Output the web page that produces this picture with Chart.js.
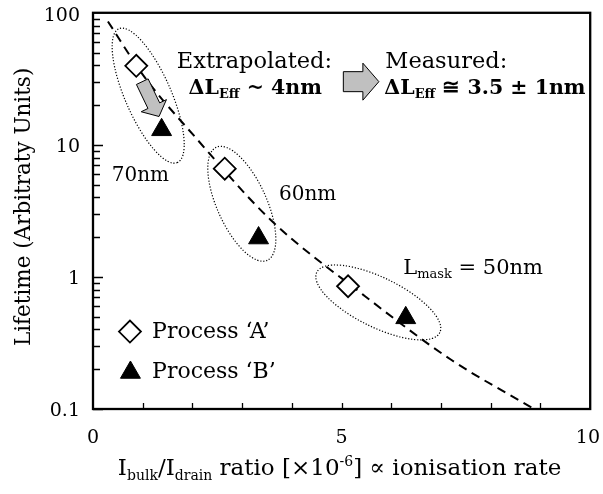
<!DOCTYPE html>
<html><head><meta charset="utf-8">
<script src="https://cdn.jsdelivr.net/npm/chart.js@4/dist/chart.umd.min.js"></script>
<style>html,body{margin:0;padding:0;background:#fff;}#wrap{width:603px;height:494px;}</style>
</head><body><div id="wrap"><canvas id="c" width="603" height="494"></canvas></div>
<script>
// ---- data ----
const processA_x = [0.87, 2.65, 5.13];
const processA_y = [39.7, 6.6, 0.85];
const processB_x = [1.38, 3.33, 6.29];
const processB_y = [13.0, 1.97, 0.49];
const fit_x = [0.30, 1.03, 2.06, 3.57, 5.43, 7.21, 8.85];
const fit_y = [86, 32.9, 11.4, 2.71, 0.735, 0.235, 0.101];
const yTickLabels = [0.1, 1, 10, 100];
const xTickLabels = [0, 5, 10];
const seriesNames = ["Process \u2018A\u2019", "Process \u2018B\u2019"];

const FONT = '"DejaVu Serif", "Liberation Serif", serif';

// annotation anchors in data units (x, y)
const textNotes = [
  {parts:[['Extrapolated:','n']], x:1.685, y:38.2, size:22.5, bold:false},
  {parts:[['\u0394L','n'],['Eff','sub'],[' ~ 4nm','n']], x:1.923, y:24.4, size:20.5, bold:true},
  {parts:[['Measured:','n']], x:5.88, y:38.2, size:22.5, bold:false},
  {parts:[['\u0394L','n'],['Eff','sub'],[' \u2245 3.5 \u00b1 1nm','n']], x:5.86, y:24.4, size:20.5, bold:true},
  {parts:[['70nm','n']], x:0.377, y:5.30, size:20, bold:false},
  {parts:[['60nm','n']], x:3.74, y:3.85, size:20, bold:false},
  {parts:[['L','n'],['mask','sub'],[' = 50nm','n']], x:6.24, y:1.06, size:21, bold:false}
];
const ellipseNotes = [
  {x:1.11, y:23.6, a:73, b:23, rot:66.4},
  {x:2.993, y:3.58, a:62, b:24.8, rot:65.8},
  {x:5.738, y:0.641, a:68.5, b:24.8, rot:26.1}
];
const arrowNotes = [
  {x1:0.991, y1:30.1, x2:1.328, y2:16.4, sw:13, hw:28, hl:12},
  {x1:5.035, y1:30.1, x2:5.75, y2:30.1, sw:20, hw:37, hl:16}
];
const legendAnchors = [
  {mx:0.743, my:0.386, tx:1.189, ty:0.344},
  {mx:0.753, my:0.189, tx:1.189, ty:0.173}
];

function richWidth(ctx, parts, size, bold){
  let w=0;
  for(const [t,k] of parts){
    const s = k==='n'?size:Math.round(size*0.62);
    ctx.font=(bold?'bold ':'')+s+'px '+FONT;
    w+=ctx.measureText(t).width;
  }
  return w;
}
function drawRich(ctx, parts, x, y, size, bold){
  let cx=x;
  ctx.textAlign='left'; ctx.textBaseline='alphabetic';
  for(const [t,k] of parts){
    const s = k==='n'?size:Math.round(size*0.62);
    ctx.font=(bold?'bold ':'')+s+'px '+FONT;
    const dy = k==='sub'? size*0.22 : (k==='sup'? -size*0.4 : 0);
    ctx.fillText(t, cx, y+dy);
    cx+=ctx.measureText(t).width;
  }
}
function blockArrow(ctx,x1,y1,x2,y2,sw,hw,hl){
  const dx=x2-x1, dy=y2-y1, L=Math.hypot(dx,dy), ux=dx/L, uy=dy/L, px=-uy, py=ux;
  const bx=x2-ux*hl, by=y2-uy*hl;
  const pts=[[x1+px*sw/2,y1+py*sw/2],[bx+px*sw/2,by+py*sw/2],[bx+px*hw/2,by+py*hw/2],[x2,y2],
             [bx-px*hw/2,by-py*hw/2],[bx-px*sw/2,by-py*sw/2],[x1-px*sw/2,y1-py*sw/2]];
  ctx.beginPath(); ctx.moveTo(pts[0][0],pts[0][1]);
  for(let i=1;i<pts.length;i++) ctx.lineTo(pts[i][0],pts[i][1]);
  ctx.closePath();
  ctx.fillStyle='#c0c0c0'; ctx.fill();
  ctx.lineWidth=1; ctx.strokeStyle='#000'; ctx.setLineDash([]); ctx.stroke();
}

const decor = {
  id:'decor',
  beforeDatasetsDraw(chart){
    const ctx=chart.ctx, xs=chart.scales.x, ys=chart.scales.y;
    ctx.save();
    ctx.strokeStyle='#000'; ctx.lineWidth=1.2; ctx.setLineDash([1.2,1.8]);
    for(const e of ellipseNotes){
      ctx.beginPath();
      ctx.ellipse(xs.getPixelForValue(e.x), ys.getPixelForValue(e.y), e.a, e.b, e.rot*Math.PI/180, 0, Math.PI*2);
      ctx.stroke();
    }
    ctx.restore();
  },
  afterDatasetsDraw(chart){
    const ctx=chart.ctx, xs=chart.scales.x, ys=chart.scales.y, ca=chart.chartArea;
    ctx.save();
    for(const a of arrowNotes){
      blockArrow(ctx, xs.getPixelForValue(a.x1), ys.getPixelForValue(a.y1),
                 xs.getPixelForValue(a.x2), ys.getPixelForValue(a.y2), a.sw, a.hw, a.hl);
    }
    ctx.fillStyle='#000';
    for(const t of textNotes){
      drawRich(ctx, t.parts, xs.getPixelForValue(t.x), ys.getPixelForValue(t.y), t.size, t.bold);
    }
    // legend
    chart.data.datasets.slice(0,2).forEach((ds,i)=>{
      const L=legendAnchors[i];
      const mx=xs.getPixelForValue(L.mx), my=ys.getPixelForValue(L.my);
      ctx.fillStyle=ds.backgroundColor; ctx.strokeStyle=ds.borderColor; ctx.lineWidth=ds.borderWidth;
      ctx.setLineDash([]);
      Chart.helpers.drawPoint(ctx,{pointStyle:ds.pointStyle, radius:ds.pointRadius, borderWidth:ds.borderWidth, rotation:0}, mx, my);
      ctx.fillStyle='#000';
      drawRich(ctx, [[ds.label,'n']], xs.getPixelForValue(L.tx), ys.getPixelForValue(L.ty), 22, false);
    });
    // frame
    ctx.setLineDash([]);
    ctx.strokeStyle='#000'; ctx.lineWidth=2.3;
    ctx.strokeRect(ca.left, ca.top, ca.right-ca.left, ca.bottom-ca.top);
    // inward ticks
    ctx.lineWidth=1.3;
    ctx.beginPath();
    for(let d=-1; d<2; d++){
      for(let m=1;m<=9;m++){
        const v=m*Math.pow(10,d);
        if(v<0.1||v>100) continue;
        const py=Math.round(ys.getPixelForValue(v))+0.5;
        const len = m===1?10:7;
        ctx.moveTo(ca.left, py); ctx.lineTo(ca.left+len, py);
      }
    }
    for(let v=1; v<10; v++){
      const px=Math.round(xs.getPixelForValue(v))+0.5;
      ctx.moveTo(px, ca.bottom); ctx.lineTo(px, ca.bottom-6);
    }
    ctx.stroke();
    // tick labels
    ctx.fillStyle='#000';
    ctx.font='19px '+FONT;
    ctx.textAlign='right'; ctx.textBaseline='middle';
    for(const v of yTickLabels){
      const py=Math.max(ys.getPixelForValue(v)+2, 16);
      ctx.fillText(String(v), ca.left-13, py);
    }
    ctx.textAlign='center';
    for(const v of xTickLabels){
      const s=String(v); const w=ctx.measureText(s).width;
      let px=xs.getPixelForValue(v);
      px=Math.min(px, chart.width-3-w/2);
      ctx.fillText(s, px, ca.bottom+29);
    }
    // axis titles
    const xt=[['I','n'],['bulk','sub'],['/I','n'],['drain','sub'],[' ratio [\u00d710','n'],['-6','sup'],['] \u221d ionisation rate','n']];
    const w=richWidth(ctx,xt,23,false);
    drawRich(ctx, xt, (ca.left+ca.right)/2 - w/2 - 2, ca.bottom+66, 23, false);
    ctx.save();
    ctx.translate(24, (ca.top+ca.bottom)/2 - 4);
    ctx.rotate(-Math.PI/2);
    ctx.font='21.5px '+FONT; ctx.textAlign='center'; ctx.textBaseline='middle';
    ctx.fillText('Lifetime (Arbitraty Units)',0,0);
    ctx.restore();
    ctx.restore();
  }
};

const chart = new Chart(document.getElementById('c'), {
  type:'scatter',
  data:{
    datasets:[
      {label:seriesNames[0], data:processA_x.map((x,i)=>({x, y:processA_y[i]})),
       pointStyle:'rectRot', pointRadius:11, backgroundColor:'#fff', borderColor:'#000', borderWidth:1.8, order:1},
      {label:seriesNames[1], data:processB_x.map((x,i)=>({x, y:processB_y[i]})),
       pointStyle:'triangle', pointRadius:11.5, backgroundColor:'#000', borderColor:'#000', borderWidth:1, order:2},
      {label:'fit', data:fit_x.map((x,i)=>({x, y:fit_y[i]})), showLine:true, pointRadius:0,
       borderColor:'#000', borderWidth:2, borderDash:[9,6], cubicInterpolationMode:'monotone', fill:false, order:3}
    ]
  },
  options:{
    responsive:false, animation:false, devicePixelRatio:1,
    layout:{padding:{left:0,right:6,top:7,bottom:0}},
    plugins:{legend:{display:false}, tooltip:{enabled:false}},
    scales:{
      x:{type:'linear', min:0, max:10, ticks:{display:false}, grid:{display:false}, border:{display:false},
         afterFit(s){ s.height=85; s.paddingLeft=0; s.paddingRight=0; }},
      y:{type:'logarithmic', min:0.1, max:100, ticks:{display:false}, grid:{display:false}, border:{display:false},
         afterFit(s){ s.width=93; s.paddingTop=0; s.paddingBottom=0; }}
    }
  },
  plugins:[decor]
});
</script></body></html>
